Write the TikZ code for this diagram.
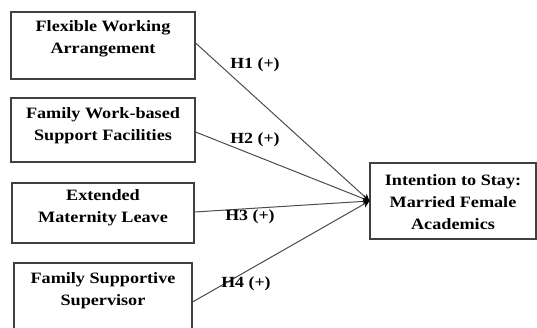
\documentclass[tikz,border=0pt]{standalone}
\usepackage{fontspec}
\setmainfont{Liberation Serif}[FakeStretch=1.15]
\usetikzlibrary{arrows.meta}
\begin{document}
\begin{tikzpicture}[x=1pt,y=1pt,
  box/.style={draw=black!75,line width=1.1pt,inner sep=0pt},
  txt/.style={align=center,font=\fontsize{15.8}{22}\selectfont\bfseries,inner sep=0pt},
  lbl/.style={font=\fontsize{15.5}{17}\selectfont\bfseries,inner sep=0pt},
  conn/.style={draw=black!70,line width=1pt,-{Stealth[length=7pt,width=7pt,color=black]}}]
\useasboundingbox (0,0) rectangle (537,327);
\clip (0,0) rectangle (537,327);
\node[box,minimum width=184pt,minimum height=67pt] (b1) at (103,281.5) {};
\node[box,minimum width=184pt,minimum height=64pt] (b2) at (103,197) {};
\node[box,minimum width=182pt,minimum height=60pt] (b3) at (103,114) {};
\node[box,minimum width=178pt,minimum height=80pt] (b4) at (103,24) {};
\node[box,minimum width=166pt,minimum height=76pt] (t) at (453,126) {};
\node[txt] (t1) at (103,288) {Flexible Working\\Arrangement};
\node[txt] (t2) at (103,201) {Family Work-based\\Support Facilities};
\node[txt] (t3) at (103,119) {Extended\\Maternity Leave};
\node[txt] (t4) at (103,36) {Family Supportive\\Supervisor};
\node[txt] (tt) at (453,125) {Intention to Stay:\\Married Female\\Academics};
\draw[conn] ([yshift=2.5pt]b1.east) -- (t.west);
\draw[conn] ([yshift=-2pt]b2.east) -- (t.west);
\draw[conn] ([yshift=1pt]b3.east) -- (t.west);
\draw[conn] ([yshift=1pt]b4.east) -- (t.west);
\node[lbl] (h1) at (255,262) {H1 (+)};
\node[lbl] (h2) at (255,187) {H2 (+)};
\node[lbl] (h3) at (250,110) {H3 (+)};
\node[lbl] (h4) at (246,43) {H4 (+)};
\end{tikzpicture}
\end{document}
